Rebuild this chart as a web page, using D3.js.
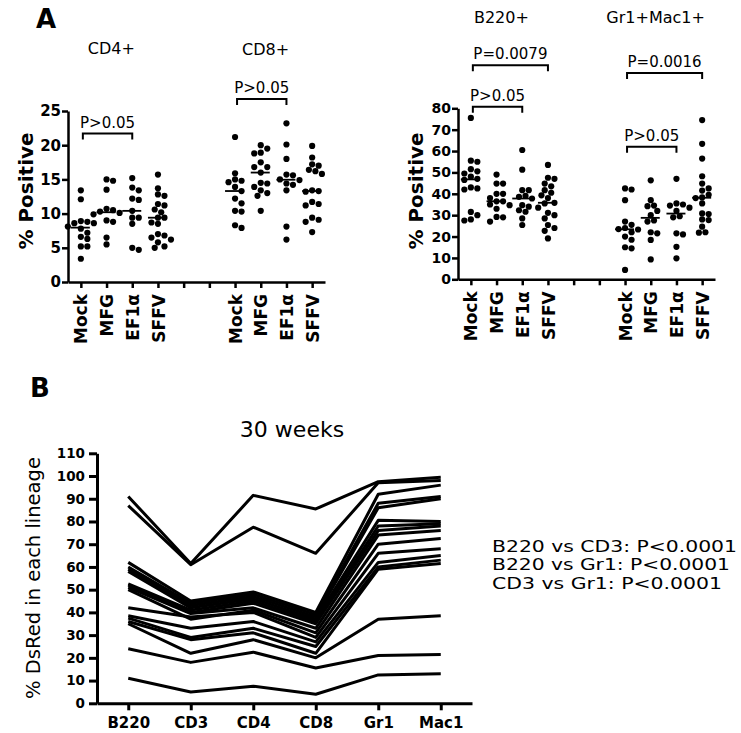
<!DOCTYPE html>
<html><head><meta charset="utf-8">
<script src="https://cdn.jsdelivr.net/npm/d3@7"></script>
<style>
body{margin:0;background:#fff}
svg{display:block}
text{font-family:"DejaVu Sans",sans-serif;fill:#000}
</style>
</head><body>
<svg id="chart" width="741" height="733"></svg>
<script>
// ---------- Panel A data ----------
const vectors = ["Mock","MFG","EF1α","SFFV"];
const slotLabels = ["Mock","MFG","EF1α","SFFV","","","Mock","MFG","EF1α","SFFV"];

const cd4Values = [
  [13.4,12.1,8.9,8.8,8.6,8.6,8.1,7.8,7.2,6.6,6.3,5.2,5.2,3.4],
  [15.0,14.8,13.5,10.7,10.5,10.3,10.1,9.9,9.0,8.8,6.5,5.5],
  [15.2,13.8,13.4,12.2,12.0,10.4,9.4,9.4,8.5,5.0,4.7],
  [15.7,13.7,12.8,12.6,11.4,11.2,10.6,10.2,9.4,9.4,8.7,8.5,7.0,6.8,6.5,6.2,5.8,5.2,5.0]
];
const cd8Values = [
  [21.2,15.9,15.0,14.8,14.6,13.9,13.3,12.2,11.5,10.4,10.3,8.3,7.9],
  [20.0,19.5,18.9,18.8,17.5,16.8,16.8,16.0,14.5,14.4,13.9,13.4,13.0,12.6,10.4],
  [23.2,20.1,18.0,15.7,15.6,15.0,14.9,14.4,14.2,13.4,8.1,6.2],
  [19.9,18.2,17.2,17.0,16.4,16.2,15.8,13.4,13.3,13.2,11.7,11.4,11.2,9.4,9.1,8.8,7.3]
];
const b220Values = [
  [75.5,55.5,55.0,51.5,50.5,49.5,48.0,47.0,46.5,43.0,42.5,42.0,31.5,30.0,28.0,27.5],
  [49.0,44.8,44.8,40.0,40.0,38.0,36.5,36.5,35.0,34.7,33.0,29.2,29.0,27.0],
  [60.5,51.3,41.7,41.7,39.0,38.6,37.8,34.7,34.0,32.3,31.6,28.5,25.4],
  [53.5,47.5,47.0,44.8,43.5,41.7,40.5,39.3,38.0,35.8,35.5,33.5,31.1,30.0,28.5,25.4,24.0,22.7,19.1]
];
const gr1Mac1Values = [
  [42.5,42.0,37.0,27.0,25.5,24.0,23.5,23.3,22.0,20.0,18.5,15.0,14.5,4.4],
  [46.3,37.0,34.5,34.2,32.0,30.0,27.5,27.0,22.0,21.5,18.4,9.3],
  [47.0,35.5,35.0,34.5,33.5,32.0,29.5,29.0,21.5,21.0,15.2,9.8],
  [74.5,63.4,56.5,48.2,44.8,42.5,41.5,39.5,38.3,38.0,35.5,30.8,30.5,28.0,27.7,24.6,22.0,21.8]
];
const leftTicks = [0,5,10,15,20,25];
const rightTicks = [0,10,20,30,40,50,60,70,80];
const leftBrackets = [
  {from:0,to:2,level:21.7,label:"P>0.05"},
  {from:6,to:8,level:26.75,label:"P>0.05"}
];
const rightBrackets = [
  {from:0,to:3,level:100.1,label:"P=0.0079"},
  {from:0,to:2,level:80.7,label:"P>0.05"},
  {from:6,to:9,level:96.5,label:"P=0.0016"},
  {from:6,to:8,level:62.0,label:"P>0.05"}
];

// ---------- Panel B data ----------
const lineages = ["B220","CD3","CD4","CD8","Gr1","Mac1"];
const bTicks = [0,10,20,30,40,50,60,70,80,90,100,110];
const mouseSeries = [
  [91,61.5,91.5,85.5,97.5,99.5],
  [87,61,77.5,66,97,98],
  [62,45,49,40,92,96],
  [60,44,48,39,88,91],
  [59,43,47,38,86,90],
  [58,42,46,37,80.5,80],
  [52.5,41,45,36,78,79],
  [52,40,44,35,76,78],
  [51,39.5,42,33,74,76],
  [50,37,41,31,70,72.5],
  [42,38,40,29,66,68],
  [38.5,33,36,27,62,65],
  [37.5,29,33,25,60,63],
  [36,28,31,22,59,61.5],
  [35,22,28,20,37,38.5],
  [24,18,22.5,15.5,21,21.5],
  [11,5,7.5,4,12.5,13]
];
const statLines = ["B220 vs CD3: P<0.0001","B220 vs Gr1: P<0.0001","CD3 vs Gr1: P<0.0001"];

// ---------- drawing ----------
const svg = d3.select("#chart");
const FONT = "DejaVu Sans";

function styleAxis(g, width, fontSize) {
  g.selectAll("path,line").attr("stroke","#000").attr("stroke-width",width);
  g.selectAll("text").attr("font-family",FONT).attr("font-weight","bold")
    .attr("font-size",fontSize).attr("fill","#000");
}

function swarm(values, cx, y, r) {
  const placed = [];
  const pts = values.map(v => ({v, py:y(v)})).sort((a,b)=>a.py-b.py);
  const offs = [0];
  for (let k=1;k<=5;k++){ offs.push(k*r*1.05, -k*r*1.05); }
  for (const p of pts) {
    let chosen = offs[0];
    for (const o of offs) {
      const ok = placed.every(q => {
        const dx = q.px-(cx+o), dy = q.py-p.py;
        return dx*dx+dy*dy >= (2*r)*(2*r)*0.92;
      });
      if (ok) { chosen = o; break; }
    }
    p.px = cx+chosen;
    placed.push(p);
  }
  return placed;
}

function scatterPanel(cfg) {
  const x = d3.scalePoint().domain(d3.range(10)).range([cfg.x0,cfg.x1]).padding(0.5);
  const y = d3.scaleLinear().domain([0,cfg.max]).range([cfg.y0,cfg.y1]);
  const g = svg.append("g");

  const ya = g.append("g").attr("transform",`translate(${cfg.x0},0)`)
    .call(d3.axisLeft(y).tickValues(cfg.ticks).tickSize(6).tickSizeOuter(0).tickPadding(1));
  styleAxis(ya, 2.5, cfg.tickFont);

  const xa = g.append("g").attr("transform",`translate(0,${cfg.y0})`)
    .call(d3.axisBottom(x).tickSize(6).tickSizeOuter(0).tickFormat(i=>slotLabels[i]));
  styleAxis(xa, 2.5, 17);
  xa.selectAll("text").attr("transform","rotate(-90)").attr("text-anchor","end")
    .attr("x",-12).attr("y",0).attr("dy","0.36em");

  const groupsData = [{slot0:0, vals:cfg.groupA},{slot0:6, vals:cfg.groupB}];
  groupsData.forEach(gr => {
    gr.vals.forEach((vals,i) => {
      const cx = x(gr.slot0+i);
      const pts = swarm(vals, cx, y, 3.1);
      g.append("g").selectAll("circle").data(pts).join("circle")
        .attr("cx",d=>d.px).attr("cy",d=>d.py).attr("r",3.1).attr("fill","#000");
      const med = d3.median(vals);
      g.append("line").attr("x1",cx-10).attr("x2",cx+9).attr("y1",y(med)).attr("y2",y(med))
        .attr("stroke","#000").attr("stroke-width",1.8);
    });
  });

  cfg.titles.forEach(t => {
    const mid = (x(t.slot0)+x(t.slot0+3))/2 - 8;
    g.append("text").attr("x",mid).attr("y",t.y).attr("text-anchor","middle")
      .attr("font-size",16).text(t.text);
  });

  cfg.brackets.forEach(b => {
    const xa1 = x(b.from)+2, xa2 = x(b.to), yl = y(b.level);
    g.append("path").attr("d",`M${xa1},${yl+6}V${yl}H${xa2}V${yl+6}`)
      .attr("fill","none").attr("stroke","#000").attr("stroke-width",2);
    g.append("text").attr("x",(xa1+xa2)/2).attr("y",yl-6).attr("text-anchor","middle")
      .attr("font-size",15).text(b.label);
  });

  g.append("text").attr("transform",`translate(${cfg.ylabX},191) rotate(-90)`)
    .attr("text-anchor","middle").attr("font-weight","bold").attr("font-size",20)
    .text("% Positive");
}

scatterPanel({x0:68,x1:325,y0:282,y1:111,max:25,ticks:leftTicks,tickFont:15,
  groupA:cd4Values, groupB:cd8Values,
  titles:[{slot0:0,text:"CD4+",y:54},{slot0:6,text:"CD8+",y:55}],
  brackets:leftBrackets, ylabX:33});
scatterPanel({x0:458,x1:715,y0:279.3,y1:108.3,max:80,ticks:rightTicks,tickFont:14,
  groupA:b220Values, groupB:gr1Mac1Values,
  titles:[{slot0:0,text:"B220+",y:23},{slot0:6,text:"Gr1+Mac1+",y:23}],
  brackets:rightBrackets, ylabX:423});

svg.append("text").attr("x",36).attr("y",28).attr("font-weight","bold").attr("font-size",26).text("A");
svg.append("text").attr("x",30).attr("y",397).attr("font-weight","bold").attr("font-size",26).text("B");

// ---------- Panel B ----------
const bx = d3.scalePoint().domain(lineages).range([97,472]).padding(0.5);
const by = d3.scaleLinear().domain([0,110]).range([703.3,453.3]);
const bg = svg.append("g");

const line = d3.line().x((d,i)=>bx(lineages[i])).y(d=>by(d));
bg.append("g").selectAll("path").data(mouseSeries).join("path")
  .attr("d",line).attr("fill","none").attr("stroke","#000")
  .attr("stroke-width",3).attr("stroke-linejoin","round");

const bya = bg.append("g").attr("transform","translate(97,0)")
  .call(d3.axisLeft(by).tickValues(bTicks).tickSize(8).tickSizeOuter(0).tickPadding(4));
styleAxis(bya, 3, 13.5);
const bxa = bg.append("g").attr("transform","translate(0,703.3)")
  .call(d3.axisBottom(bx).tickSize(7).tickSizeOuter(0).tickPadding(7));
styleAxis(bxa, 3, 15);

bg.append("text").attr("transform","translate(40,578) rotate(-90)")
  .attr("text-anchor","middle").attr("font-size",19.5).text("% DsRed in each lineage");
bg.append("text").attr("x",292).attr("y",437).attr("text-anchor","middle")
  .attr("font-size",22).text("30 weeks");
const statLen = [245, 238, 230];
bg.append("g").selectAll("text").data(statLines).join("text")
  .attr("x",492).attr("y",(d,i)=>552+i*18.4).attr("font-size",16)
  .attr("textLength",(d,i)=>statLen[i]).attr("lengthAdjust","spacingAndGlyphs")
  .text(d=>d);
</script>
</body></html>
